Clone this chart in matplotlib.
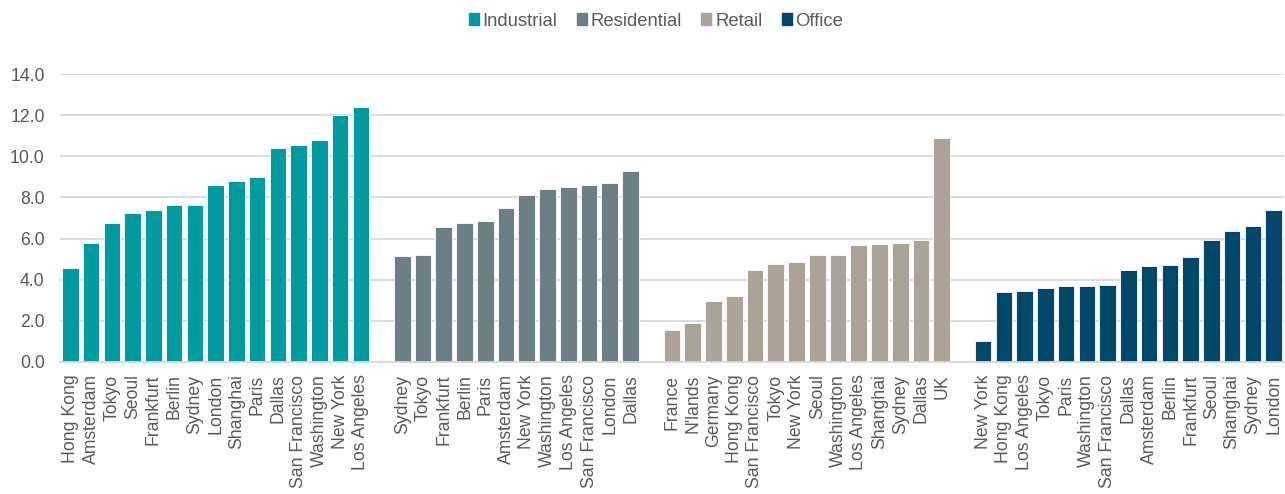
import matplotlib
matplotlib.use('Agg')
import matplotlib.pyplot as plt
import matplotlib.patches as mpatches
import numpy as np

plt.rcParams['font.family'] = ['Liberation Sans', 'DejaVu Sans']

# ── data ─────────────────────────────────────────────────────────────
industrial_cities = ['Hong Kong', 'Amsterdam', 'Tokyo', 'Seoul', 'Frankfurt', 'Berlin',
                     'Sydney', 'London', 'Shanghai', 'Paris', 'Dallas', 'San Francisco',
                     'Washington', 'New York', 'Los Angeles']
industrial_vals = [4.58, 5.79, 6.77, 7.24, 7.37, 7.61, 7.61, 8.59, 8.81, 9.01,
                   10.42, 10.55, 10.79, 11.99, 12.42]

residential_cities = ['Sydney', 'Tokyo', 'Frankfurt', 'Berlin', 'Paris', 'Amsterdam',
                      'New York', 'Washington', 'Los Angeles', 'San Francisco', 'London',
                      'Dallas']
residential_vals = [5.16, 5.22, 6.57, 6.75, 6.85, 7.47, 8.11, 8.41, 8.50, 8.59, 8.68, 9.28]

retail_cities = ['France', "N'lands", 'Germany', 'Hong Kong', 'San Francisco', 'Tokyo',
                 'New York', 'Seoul', 'Washington', 'Los Angeles', 'Shanghai', 'Sydney',
                 'Dallas', 'UK']
retail_vals = [1.57, 1.90, 2.98, 3.21, 4.48, 4.75, 4.85, 5.18, 5.18, 5.70, 5.74, 5.79,
               5.92, 10.87]

office_cities = ['New York', 'Hong Kong', 'Los Angeles', 'Tokyo', 'Paris', 'Washington',
                 'San Francisco', 'Dallas', 'Amsterdam', 'Berlin', 'Frankfurt', 'Seoul',
                 'Shanghai', 'Sydney', 'London']
office_vals = [1.00, 3.41, 3.46, 3.59, 3.68, 3.68, 3.73, 4.48, 4.66, 4.71, 5.08, 5.92,
               6.35, 6.59, 7.37]

sectors = ['Industrial', 'Residential', 'Retail', 'Office']
COLORS = ['#009BA1', '#6B7F84', '#ACA398', '#00486A']
TXT = '#595959'
GRID = '#D9D9D9'

groups = [(industrial_cities, industrial_vals),
          (residential_cities, residential_vals),
          (retail_cities, retail_vals),
          (office_cities, office_vals)]

fig = plt.figure(figsize=(12.85, 4.94), dpi=100)
ax = fig.add_axes([60 / 1285, 132 / 494, 1224 / 1285, 288 / 494])

ticks, ticklabels = [], []
start = 0
for (cities, vals), color in zip(groups, COLORS):
    xs = np.arange(start, start + len(cities))
    ax.bar(xs, vals, width=0.8, color=color, edgecolor='white', linewidth=0.6, zorder=3)
    ticks.extend(xs)
    ticklabels.extend(cities)
    start += len(cities) + 1  # one empty slot between sectors

ax.set_xlim(-0.5, start - 1.5)
ax.set_ylim(0, 14)
ax.set_yticks(np.arange(0, 14.1, 2))
ax.set_yticklabels([f'{v:.1f}' for v in np.arange(0, 14.1, 2)])
ax.set_xticks(ticks)
ax.set_xticklabels(ticklabels, rotation=90, ha='center', va='top')

ax.tick_params(axis='both', length=0, colors=TXT, labelsize=12.7)
ax.tick_params(axis='x', pad=9)
ax.tick_params(axis='y', pad=11)
ax.grid(axis='y', color=GRID, lw=1.3, zorder=0)
for s in ['top', 'right', 'left']:
    ax.spines[s].set_visible(False)
ax.spines['bottom'].set_color(GRID)
ax.spines['bottom'].set_linewidth(1.3)
ax.spines['bottom'].set_zorder(4)

handles = [mpatches.Patch(color=c, label=l) for c, l in zip(COLORS, sectors)]
leg = fig.legend(handles=handles, loc='center', bbox_to_anchor=(656 / 1285, 1 - 21 / 494),
                 ncol=4, frameon=False, fontsize=13.3, handlelength=0.55, handleheight=0.55,
                 handletextpad=0.2, columnspacing=1.05)
for t in leg.get_texts():
    t.set_color(TXT)

fig.savefig('out.png', dpi=100, facecolor='white')
plt.close()
